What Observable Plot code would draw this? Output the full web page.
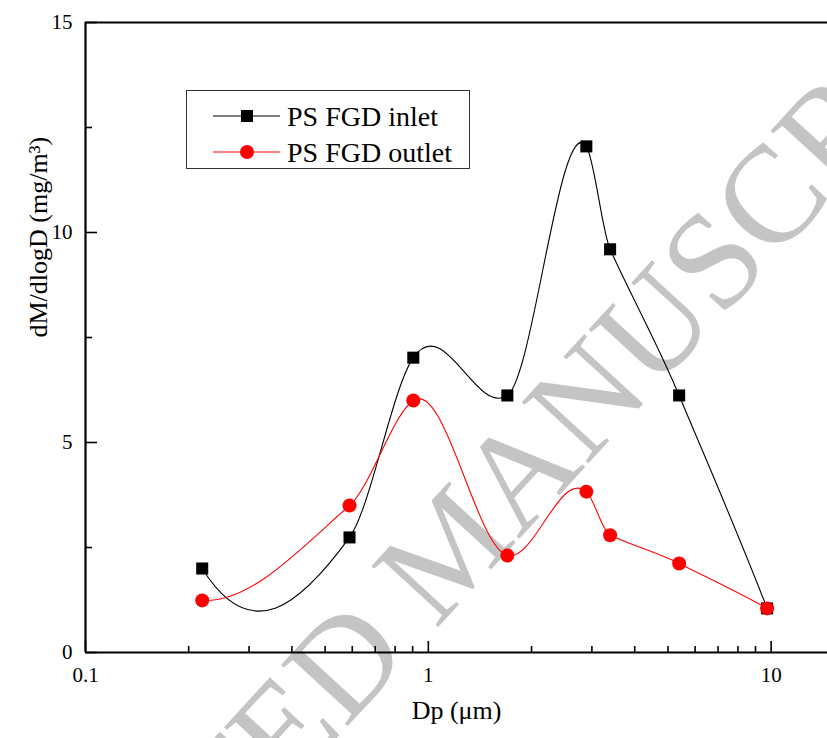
<!DOCTYPE html>
<html>
<head>
<meta charset="utf-8">
<script src="https://cdn.jsdelivr.net/npm/d3@7"></script>
<script src="https://cdn.jsdelivr.net/npm/@observablehq/plot@0.6"></script>
<style>
  html, body { margin: 0; padding: 0; background: white; }
  svg text { font-family: "Liberation Serif", "Times New Roman", serif; }
</style>
</head>
<body>
<div id="chart"></div>
<script>
// Data
const dp = [0.219, 0.589, 0.904, 1.70, 2.89, 3.39, 5.39, 9.73];
const inletM = [2.0, 2.74, 7.02, 6.12, 12.05, 9.6, 6.12, 1.05];
const outletM = [1.24, 3.5, 6.0, 2.31, 3.83, 2.79, 2.12, 1.05];
const seriesNames = ["PS FGD inlet", "PS FGD outlet"];
const xMajorTicks = [0.1, 1, 10];
const xMinorTicks = [0.2,0.3,0.4,0.5,0.6,0.7,0.8,0.9,2,3,4,5,6,7,8,9];
const yMajorTicks = [0, 5, 10, 15];
const yMinorTicks = [2.5, 7.5, 12.5];
const xTitle = "Dp (μm)";
const yTitle = "dM/dlogD (mg/m³)";
const watermark = "ACCEPTED MANUSCRIPT";

const inlet = dp.map((d, i) => ({dp: d, m: inletM[i]}));
const outlet = dp.map((d, i) => ({dp: d, m: outletM[i]}));

// Curve factory: Akima spline of y as a function of x in screen space
// (smooth connection through every point, like the original plot's spline),
// with end slopes taken from the parabola through the three end points.
function akimaCurve(context) {
  let xs, ys;
  return {
    areaStart() {}, areaEnd() {},
    lineStart() { xs = []; ys = []; },
    point(x, y) { xs.push(+x); ys.push(+y); },
    lineEnd() {
      const n = xs.length;
      if (!n) return;
      context.moveTo(xs[0], ys[0]);
      if (n === 1) return;
      if (n === 2) { context.lineTo(xs[1], ys[1]); return; }
      const m = [];
      for (let i = 0; i < n - 1; i++) m.push((ys[i + 1] - ys[i]) / (xs[i + 1] - xs[i]));
      const ext = [3 * m[0] - 2 * m[1], 2 * m[0] - m[1], ...m,
                   2 * m[n - 2] - m[n - 3], 3 * m[n - 2] - 2 * m[n - 3]];
      const t = [];
      for (let i = 0; i < n; i++) {
        const m1 = ext[i], m2 = ext[i + 1], m3 = ext[i + 2], m4 = ext[i + 3];
        const w1 = Math.abs(m4 - m3), w2 = Math.abs(m2 - m1);
        t.push(w1 + w2 > 1e-9 ? (w1 * m2 + w2 * m3) / (w1 + w2) : (m2 + m3) / 2);
      }
      // parabolic end slopes
      const f2s = (m[1] - m[0]) / (xs[2] - xs[0]);
      t[0] = m[0] + f2s * (xs[0] - xs[1]);
      const f2e = (m[n - 2] - m[n - 3]) / (xs[n - 1] - xs[n - 3]);
      t[n - 1] = m[n - 2] + f2e * (xs[n - 1] - xs[n - 2]);
      for (let i = 0; i < n - 1; i++) {
        const h = xs[i + 1] - xs[i];
        context.bezierCurveTo(xs[i] + h / 3, ys[i] + t[i] * h / 3,
                              xs[i + 1] - h / 3, ys[i + 1] - t[i + 1] * h / 3,
                              xs[i + 1], ys[i + 1]);
      }
    }
  };
}

const FONT = "Liberation Serif";
const W = 827, H = 738;
const mL = 85, mR = 0, mT = 22, mB = 86;
const pw = W - mL - mR, ph = H - mT - mB;
const curve = akimaCurve;

const chart = Plot.plot({
  width: W,
  height: H,
  marginLeft: mL,
  marginRight: mR,
  marginTop: mT,
  marginBottom: mB,
  style: {fontFamily: FONT, fontSize: "21px", color: "black", background: "white", overflow: "visible"},
  x: {type: "log", domain: [0.1, 14.6]},
  y: {domain: [0, 15]},
  marks: [
    Plot.axisX({ticks: xMajorTicks, tickSize: 0, tickPadding: 15, tickFormat: d => String(d), label: null, fontSize: 21, fontFamily: FONT}),
    Plot.axisY({ticks: yMajorTicks, tickSize: 0, tickPadding: 13, tickFormat: d => String(d), label: null, fontSize: 21, fontFamily: FONT}),
    Plot.tickX(xMajorTicks, {x: d => d, insetTop: ph - 11, stroke: "black", strokeWidth: 1.6}),
    Plot.tickX(xMinorTicks, {x: d => d, insetTop: ph - 6, stroke: "black", strokeWidth: 1.6}),
    Plot.tickY(yMajorTicks, {y: d => d, insetRight: pw - 12, stroke: "black", strokeWidth: 1.6}),
    Plot.tickY(yMinorTicks, {y: d => d, insetRight: pw - 7, stroke: "black", strokeWidth: 1.6}),
    Plot.ruleY([0], {stroke: "black", strokeWidth: 2.2}),
    Plot.ruleY([15], {stroke: "black", strokeWidth: 2.2}),
    Plot.ruleX([0.1], {stroke: "black", strokeWidth: 2.2}),
    Plot.line(inlet, {x: "dp", y: "m", stroke: "black", strokeWidth: 1.1, curve}),
    Plot.line(outlet, {x: "dp", y: "m", stroke: "#ff0000", strokeWidth: 1.1, curve}),
    Plot.dot(inlet, {x: "dp", y: "m", symbol: "square", r: 6.8, fill: "black", stroke: "none"}),
    Plot.dot(outlet, {x: "dp", y: "m", symbol: "circle", r: 7, fill: "#ff0000", stroke: "none"}),
    Plot.text([xTitle], {text: d => d, frameAnchor: "bottom", dy: 66, fontSize: 26, fontFamily: FONT}),
    Plot.text([yTitle], {text: d => d, frameAnchor: "left", dx: -47, rotate: -90, fontSize: 26, fontFamily: FONT})
  ]
});

document.getElementById("chart").appendChild(chart);

const svg = d3.select(chart);
svg.style("font-family", FONT);

// Watermark behind everything
const wm = svg.insert("g", ":first-child");
wm.append("text")
  .attr("transform", "translate(450,547) rotate(-47.5)")
  .attr("text-anchor", "middle")
  .attr("dy", "0.33em")
  .style("font-family", FONT)
  .attr("font-size", 138)
  .attr("fill", "#c4c4c4")
  .text(watermark);

// Legend
const lg = svg.append("g");
lg.append("rect")
  .attr("x", 186.5).attr("y", 90.5).attr("width", 283).attr("height", 78)
  .attr("fill", "white").attr("stroke", "#333").attr("stroke-width", 1);
const rows = [
  {name: seriesNames[0], color: "black", sym: d3.symbolSquare, y: 116},
  {name: seriesNames[1], color: "#ff0000", sym: d3.symbolCircle, y: 152}
];
rows.forEach(r => {
  lg.append("line").attr("x1", 213).attr("x2", 280).attr("y1", r.y).attr("y2", r.y)
    .attr("stroke", r.color).attr("stroke-width", 1.1);
  lg.append("path").attr("d", d3.symbol(r.sym, r.sym === d3.symbolSquare ? 145 : 154)())
    .attr("transform", `translate(247,${r.y})`).attr("fill", r.color);
  lg.append("text").attr("x", 287).attr("y", r.y).attr("dy", "0.35em")
    .attr("text-anchor", "start")
    .style("font-family", FONT)
    .attr("font-size", 28).attr("fill", "black").text(r.name);
});
</script>
</body>
</html>
